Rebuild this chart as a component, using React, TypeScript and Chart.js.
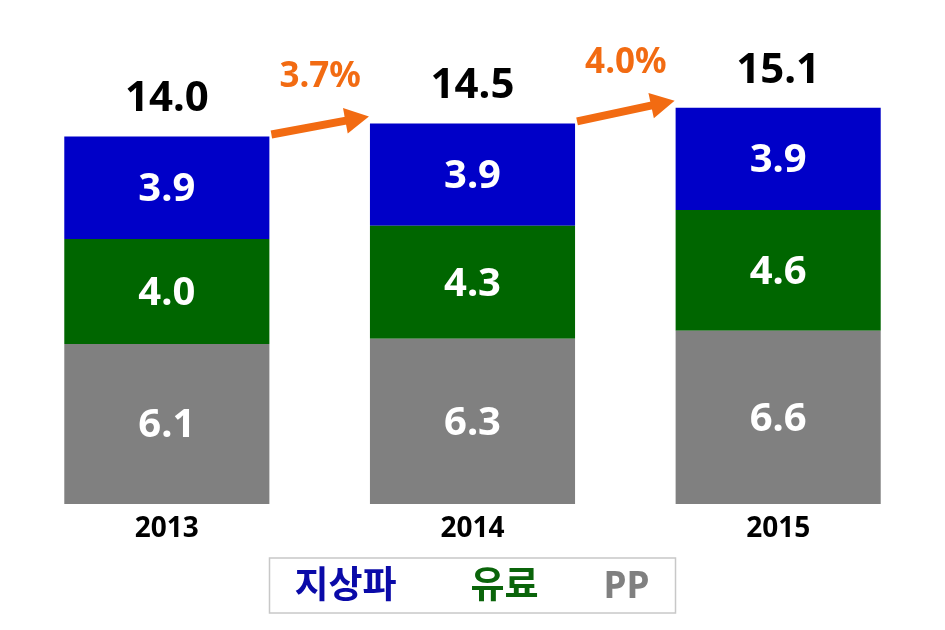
import React, { useEffect, useRef } from "react";
import { Chart, registerables } from "chart.js";

Chart.register(...registerables);

const categories = ["2013", "2014", "2015"];
const ppValues = [6.1, 6.3, 6.6];
const paidValues = [4.0, 4.3, 4.6];
const terrestrialValues = [3.9, 3.9, 3.9];
const growthLabels = ["3.7%", "4.0%"];
const legendLabels = ["지상파", "유료", "PP"];

const BLUE = "#0000C8";
const GREEN = "#006600";
const GRAY = "#808080";
const ORANGE = "#F26B12";
const FONT = '"Noto Sans", "Noto Sans CJK KR", sans-serif';

const overlayPlugin = {
  id: "overlay",
  afterDatasetsDraw(chart: any) {
    const ctx = chart.ctx;
    ctx.save();
    ctx.textAlign = "center";
    ctx.textBaseline = "middle";
    chart.data.datasets.forEach((ds: any, di: number) => {
      const meta = chart.getDatasetMeta(di);
      meta.data.forEach((bar: any, i: number) => {
        const v = ds.data[i];
        ctx.fillStyle = "#FFFFFF";
        ctx.font = `bold 40px ${FONT}`;
        ctx.fillText(v.toFixed(1), bar.x, (bar.y + bar.base) / 2 + 2);
      });
    });
    const topMeta = chart.getDatasetMeta(chart.data.datasets.length - 1);
    const tops: number[] = [];
    const bars = topMeta.data;
    categories.forEach((_, i) => {
      const total = ppValues[i] + paidValues[i] + terrestrialValues[i];
      const bar = bars[i];
      tops.push(bar.y);
      ctx.fillStyle = "#000000";
      ctx.font = `bold 42px ${FONT}`;
      ctx.fillText(total.toFixed(1), bar.x, bar.y - 37);
    });
    growthLabels.forEach((g, i) => {
      const b0 = bars[i];
      const b1 = bars[i + 1];
      const x0 = b0.x + b0.width / 2 + 2;
      const y0 = tops[i] - 2;
      const x1 = b1.x - b1.width / 2 - 1;
      const y1 = tops[i + 1] - 7;
      const ang = Math.atan2(y1 - y0, x1 - x0);
      const headLen = 24;
      const headHalf = 13;
      const bx = x1 - headLen * Math.cos(ang);
      const by = y1 - headLen * Math.sin(ang);
      ctx.strokeStyle = ORANGE;
      ctx.lineWidth = 8;
      ctx.lineCap = "butt";
      ctx.beginPath();
      ctx.moveTo(x0, y0);
      ctx.lineTo(bx + 2 * Math.cos(ang), by + 2 * Math.sin(ang));
      ctx.stroke();
      ctx.fillStyle = ORANGE;
      ctx.beginPath();
      ctx.moveTo(x1, y1);
      ctx.lineTo(bx - headHalf * Math.sin(ang), by + headHalf * Math.cos(ang));
      ctx.lineTo(bx + headHalf * Math.sin(ang), by - headHalf * Math.cos(ang));
      ctx.closePath();
      ctx.fill();
      ctx.font = `bold 35px ${FONT}`;
      ctx.fillText(g, (x0 + x1) / 2, (y0 + y1) / 2 - 48);
    });
    const cx = (chart.chartArea.left + chart.chartArea.right) / 2;
    const boxW = 406;
    ctx.strokeStyle = "#C8C8C8";
    ctx.lineWidth = 1.5;
    ctx.strokeRect(cx - boxW / 2, 558, boxW, 55);
    const legendColors = ["#0A0AA8", "#0A640A", GRAY];
    const offsets = [-127, 32, 154];
    ctx.font = `bold 37px ${FONT}`;
    legendLabels.forEach((t, i) => {
      ctx.fillStyle = legendColors[i];
      ctx.fillText(t, cx + offsets[i], 587);
    });
    ctx.restore();
  },
};

export default function App() {
  const ref = useRef<HTMLCanvasElement | null>(null);
  useEffect(() => {
    if (!ref.current) return;
    const chart = new Chart(ref.current, {
      type: "bar",
      data: {
        labels: categories,
        datasets: [
          { label: "PP", data: ppValues, backgroundColor: GRAY },
          { label: "유료", data: paidValues, backgroundColor: GREEN },
          { label: "지상파", data: terrestrialValues, backgroundColor: BLUE },
        ],
      },
      options: {
        animation: false,
        responsive: false,
        layout: { padding: { left: 14, right: 14, top: 0, bottom: 0 } },
        datasets: { bar: { categoryPercentage: 1, barPercentage: 0.671 } },
        plugins: { legend: { display: false }, tooltip: { enabled: false } },
        scales: {
          x: {
            stacked: true,
            grid: { display: false, drawTicks: false },
            border: { display: false },
            ticks: { color: "#000000", font: { family: FONT, size: 28, weight: "bold" }, padding: 8 },
            afterFit: (s: any) => {
              s.height = 126;
            },
          },
          y: { stacked: true, display: false, min: 0, max: 19.2 },
        },
      },
      plugins: [overlayPlugin],
    });
    return () => chart.destroy();
  }, []);
  return (
    <div style={{ position: "fixed", left: 0, top: 0, width: 945, height: 630, background: "#fff" }}>
      <canvas ref={ref} width={945} height={630} />
    </div>
  );
}
